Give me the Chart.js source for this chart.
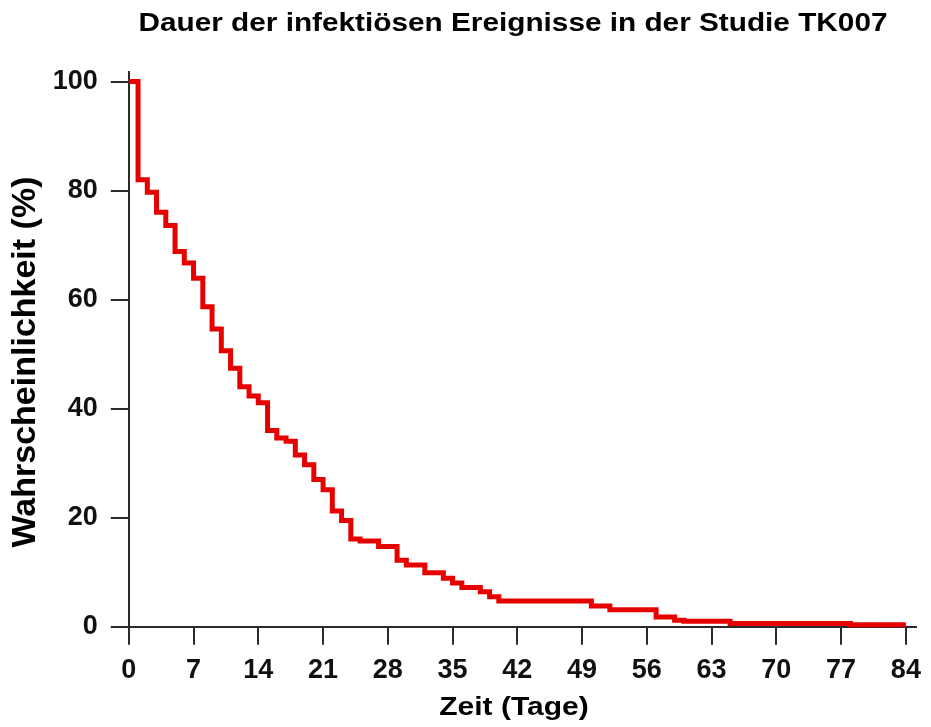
<!DOCTYPE html>
<html>
<head>
<meta charset="utf-8">
<script src="https://cdn.jsdelivr.net/npm/chart.js@4.4.1/dist/chart.umd.min.js"></script>
<style>
  html, body { margin: 0; padding: 0; background: #fff; }
  #wrap { width: 931px; height: 727px; }
</style>
</head>
<body>
<div id="wrap"><canvas id="kmChart" width="931" height="727"></canvas></div>
<script>
// Kaplan-Meier style curve
const days = [0, 1, 2, 3, 4, 5, 6, 7, 8, 9, 10, 11, 12, 13, 14, 15, 16, 17, 18, 19, 20, 21, 22, 23, 24, 25, 27, 29, 30, 32, 34, 35, 36, 38, 39, 40, 50, 52, 57, 59, 60, 65, 78, 84];
const probability = [100, 82, 79.7, 76, 73.6, 68.8, 66.7, 63.9, 58.7, 54.6, 50.6, 47.4, 44, 42.3, 41.1, 36, 34.6, 34, 31.5, 29.7, 27, 25.1, 21.2, 19.5, 16.1, 15.7, 14.7, 12.2, 11.3, 9.9, 8.9, 8, 7.2, 6.4, 5.5, 4.7, 3.8, 3.1, 1.8, 1.2, 1.0, 0.6, 0.35, 0.35];
const xTicks = [0, 7, 14, 21, 28, 35, 42, 49, 56, 63, 70, 77, 84];
const yTicks = [0, 20, 40, 60, 80, 100];

const titleText = 'Dauer der infektiösen Ereignisse in der Studie TK007';
const xLabel = 'Zeit (Tage)';
const yLabel = 'Wahrscheinlichkeit (%)';
const FONT = '"Liberation Sans", Arial, sans-serif';

const points = days.map((d, i) => ({ x: d, y: probability[i] }));

// the original's title text is a bit wider than plain Arial, so stretch it a little
function wideText(ctx, text, x, y, stretch) {
    ctx.save();
    ctx.translate(x, y);
    ctx.scale(stretch, 1);
    ctx.fillText(text, 0, 0);
    ctx.restore();
}

const textPlugin = {
    id: 'texts',
    afterDraw(chart) {
        const ctx = chart.ctx;
        ctx.save();
        ctx.fillStyle = '#000';
        ctx.textAlign = 'center';
        ctx.textBaseline = 'middle';
        ctx.font = 'bold 25px ' + FONT;
        wideText(ctx, titleText, 513, 24, 1.19);
        wideText(ctx, xLabel, 514, 708, 1.2);
        ctx.translate(26, 362);
        ctx.rotate(-Math.PI / 2);
        ctx.font = 'bold 34px ' + FONT;
        ctx.fillText(yLabel, 0, 0);
        ctx.restore();
    }
};

const ctx = document.getElementById('kmChart').getContext('2d');
const kmChart = new Chart(ctx, {
    type: 'line',
    data: {
        datasets: [{
            data: points,
            stepped: true,
            borderColor: '#e60000',
            borderWidth: 5,
            pointRadius: 0,
            fill: false,
            clip: false
        }]
    },
    options: {
        responsive: false,
        devicePixelRatio: 1,
        animation: false,
        layout: {
            padding: { top: 71.7, right: 7.8, left: 0, bottom: 0 }
        },
        plugins: {
            legend: { display: false },
            title: { display: false },
            tooltip: { enabled: false }
        },
        scales: {
            x: {
                type: 'linear',
                min: 0,
                max: 85.14,
                afterFit: (scale) => { scale.height = 100.3; },
                afterBuildTicks: (scale) => { scale.ticks = xTicks.map(v => ({ value: v })); },
                ticks: {
                    includeBounds: false,
                    stepSize: 7,
                    padding: 10,
                    color: '#111',
                    font: { family: FONT, size: 27, weight: 'bold' },
                    maxRotation: 0
                },
                grid: { drawOnChartArea: false, tickLength: 18, color: '#2a2a2a', lineWidth: 2 },
                border: { color: '#2a2a2a', width: 2 }
            },
            y: {
                min: 0,
                max: 101.8,
                afterFit: (scale) => { scale.width = 128.8; },
                afterBuildTicks: (scale) => { scale.ticks = yTicks.map(v => ({ value: v })); },
                ticks: {
                    includeBounds: false,
                    stepSize: 20,
                    padding: 13,
                    color: '#111',
                    font: { family: FONT, size: 27, weight: 'bold' }
                },
                grid: { drawOnChartArea: false, tickLength: 18, color: '#2a2a2a', lineWidth: 2 },
                border: { color: '#2a2a2a', width: 2 }
            }
        }
    },
    plugins: [textPlugin]
});
</script>
</body>
</html>
